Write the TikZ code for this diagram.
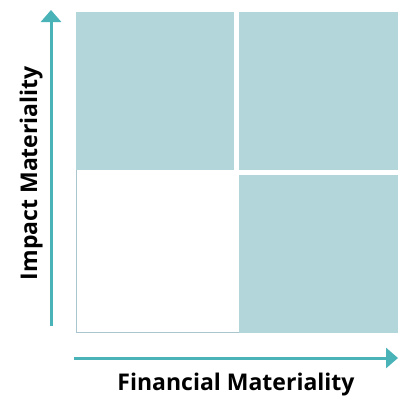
\documentclass[tikz,border=0pt]{standalone}
\usepackage{fontspec}
\setmainfont{Open Sans}
\usetikzlibrary{arrows.meta}
\definecolor{quadteal}{HTML}{B3D6DA}
\definecolor{axisteal}{HTML}{4AB3B8}
\definecolor{quadedge}{HTML}{A9C6CE}
\tikzset{
  quad/.style={fill=quadteal},
  axis/.style={axisteal,line width=3pt,-{Triangle[width=20pt,length=12pt]}},
  axislabel/.style={anchor=base,inner sep=0pt,font=\bfseries\fontsize{23}{23}\selectfont}
}
\begin{document}
\begin{tikzpicture}[x=1pt,y=-1pt]
\useasboundingbox (0,0) rectangle (399,399);
% quadrants
\fill[quad] (76,12) rectangle (234,170);
\fill[quad] (239,12) rectangle (398,170);
\fill[quad] (239,175) rectangle (398,333);
\draw[quadedge] (76.5,170) -- (76.5,332.5) -- (239,332.5);
% axes
\coordinate (yfoot) at (51,326);
\coordinate (ytip) at (51,10);
\coordinate (xfoot) at (74,358);
\coordinate (xtip) at (398,358);
\draw[axis] (yfoot) -- (ytip);
\draw[axis] (xfoot) -- (xtip);
\path (37,173) node[axislabel,rotate=90] (impact) {Impact Materiality};
\path (236,390) node[axislabel] (financial) {Financial Materiality};
\end{tikzpicture}
\end{document}
